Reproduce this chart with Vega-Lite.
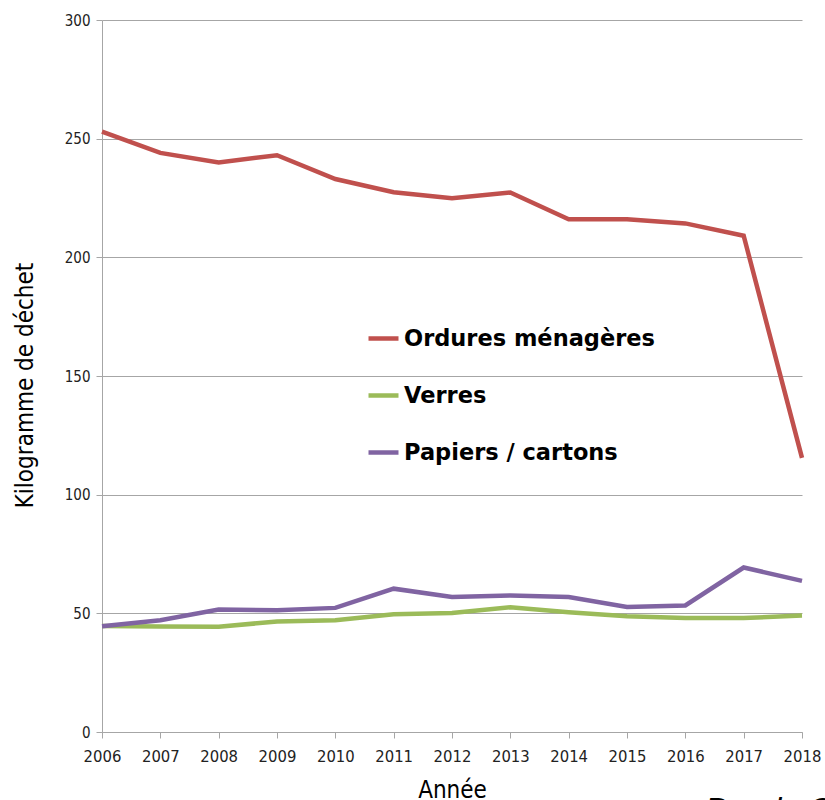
{
  "$schema": "https://vega.github.io/schema/vega-lite/v6.json",
  "width": 700,
  "height": 712,
  "autosize": "none",
  "padding": {"left": 102, "top": 20, "right": 23, "bottom": 68},
  "background": "white",
  "title": {
    "text": "Par de C",
    "orient": "bottom",
    "anchor": "end",
    "align": "left",
    "baseline": "top",
    "dx": -116,
    "offset": 0,
    "dy": -8,
    "font": "Liberation Sans",
    "fontStyle": "italic",
    "fontWeight": "normal",
    "fontSize": 32,
    "color": "#000000"
  },
  "data": {
    "values": [
      {"annee": 2006, "type": "Ordures ménagères", "kg": 253},
      {"annee": 2007, "type": "Ordures ménagères", "kg": 244},
      {"annee": 2008, "type": "Ordures ménagères", "kg": 240},
      {"annee": 2009, "type": "Ordures ménagères", "kg": 243},
      {"annee": 2010, "type": "Ordures ménagères", "kg": 233},
      {"annee": 2011, "type": "Ordures ménagères", "kg": 227.4},
      {"annee": 2012, "type": "Ordures ménagères", "kg": 224.9},
      {"annee": 2013, "type": "Ordures ménagères", "kg": 227.3},
      {"annee": 2014, "type": "Ordures ménagères", "kg": 216},
      {"annee": 2015, "type": "Ordures ménagères", "kg": 216},
      {"annee": 2016, "type": "Ordures ménagères", "kg": 214.3},
      {"annee": 2017, "type": "Ordures ménagères", "kg": 209.1},
      {"annee": 2018, "type": "Ordures ménagères", "kg": 115.5},
      {"annee": 2006, "type": "Verres", "kg": 44.7},
      {"annee": 2007, "type": "Verres", "kg": 44.4},
      {"annee": 2008, "type": "Verres", "kg": 44.3},
      {"annee": 2009, "type": "Verres", "kg": 46.6},
      {"annee": 2010, "type": "Verres", "kg": 47.1},
      {"annee": 2011, "type": "Verres", "kg": 49.6},
      {"annee": 2012, "type": "Verres", "kg": 50.1},
      {"annee": 2013, "type": "Verres", "kg": 52.6},
      {"annee": 2014, "type": "Verres", "kg": 50.5},
      {"annee": 2015, "type": "Verres", "kg": 48.8},
      {"annee": 2016, "type": "Verres", "kg": 48.0},
      {"annee": 2017, "type": "Verres", "kg": 48.0},
      {"annee": 2018, "type": "Verres", "kg": 49.1},
      {"annee": 2006, "type": "Papiers / cartons", "kg": 44.6},
      {"annee": 2007, "type": "Papiers / cartons", "kg": 47.1},
      {"annee": 2008, "type": "Papiers / cartons", "kg": 51.6},
      {"annee": 2009, "type": "Papiers / cartons", "kg": 51.3},
      {"annee": 2010, "type": "Papiers / cartons", "kg": 52.3},
      {"annee": 2011, "type": "Papiers / cartons", "kg": 60.4},
      {"annee": 2012, "type": "Papiers / cartons", "kg": 56.9},
      {"annee": 2013, "type": "Papiers / cartons", "kg": 57.5},
      {"annee": 2014, "type": "Papiers / cartons", "kg": 56.9},
      {"annee": 2015, "type": "Papiers / cartons", "kg": 52.7},
      {"annee": 2016, "type": "Papiers / cartons", "kg": 53.3},
      {"annee": 2017, "type": "Papiers / cartons", "kg": 69.3},
      {"annee": 2018, "type": "Papiers / cartons", "kg": 63.7}
    ]
  },
  "mark": {"type": "line", "strokeWidth": 4.5, "strokeJoin": "miter", "clip": false},
  "encoding": {
    "x": {
      "field": "annee",
      "type": "quantitative",
      "scale": {"domain": [2006, 2018], "nice": false, "zero": false},
      "axis": {
        "title": "Année",
        "format": "d",
        "values": [2006, 2007, 2008, 2009, 2010, 2011, 2012, 2013, 2014, 2015, 2016, 2017, 2018],
        "grid": false,
        "domainColor": "#a6a6a6",
        "tickColor": "#a6a6a6",
        "tickSize": 6,
        "labelFont": "DejaVu Sans Condensed",
        "labelFontSize": 16.5,
        "labelColor": "#222222",
        "labelPadding": 10,
        "labelOverlap": false,
        "labelFlush": false,
        "titleFont": "DejaVu Sans Condensed",
        "titleFontSize": 24,
        "titleFontWeight": "normal",
        "titleColor": "#000000",
        "titlePadding": 14
      }
    },
    "y": {
      "field": "kg",
      "type": "quantitative",
      "scale": {"domain": [0, 300], "nice": false},
      "axis": {
        "title": "Kilogramme de déchet",
        "titleY": 365,
        "values": [0, 50, 100, 150, 200, 250, 300],
        "grid": true,
        "gridColor": "#a6a6a6",
        "gridWidth": 1,
        "domainColor": "#a6a6a6",
        "tickColor": "#a6a6a6",
        "tickSize": 6,
        "labelFont": "DejaVu Sans Condensed",
        "labelFontSize": 15,
        "labelColor": "#222222",
        "labelPadding": 6,
        "titleFont": "DejaVu Sans Condensed",
        "titleFontSize": 24,
        "titleFontWeight": "normal",
        "titleColor": "#000000",
        "titlePadding": 27
      }
    },
    "color": {
      "field": "type",
      "type": "nominal",
      "scale": {
        "domain": ["Ordures ménagères", "Verres", "Papiers / cartons"],
        "range": ["#c0504d", "#9bbb59", "#8064a2"]
      },
      "legend": {
        "title": null,
        "orient": "none",
        "legendX": 264,
        "legendY": 301,
        "symbolType": "stroke",
        "symbolStrokeWidth": 4.5,
        "symbolSize": 900,
        "labelFont": "DejaVu Sans",
        "labelFontWeight": "bold",
        "labelFontSize": 22.5,
        "labelColor": "#000000",
        "labelOffset": 3,
        "rowPadding": 28,
        "labelLimit": 400
      }
    }
  },
  "config": {"view": {"stroke": null}}
}
